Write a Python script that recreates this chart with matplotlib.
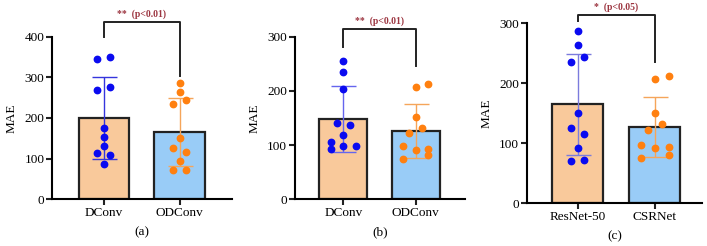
import numpy as np
import matplotlib
matplotlib.use('Agg')
import matplotlib.pyplot as plt

plt.rcParams['font.family'] = ['Liberation Serif', 'DejaVu Serif']

# panel (a): DConv vs ODConv
a_names = ['DConv', 'ODConv']
a_mean = [200, 165]
a_sd = [100, 83]
a_pts1 = [344, 349, 270, 275, 176, 152, 132, 113, 108, 86]
a_off1 = [-1, 1, -1, 1, 0, 0, 0, -1, 1, 0]
a_pts2 = [287, 264, 235, 244, 150, 125, 117, 93, 72, 72]
a_off2 = [0, 0, -1, 1, 0, -1, 1, 0, -1, 1]

# panel (b): DConv vs ODConv
b_names = ['DConv', 'ODConv']
b_mean = [148, 126]
b_sd = [61, 50]
b_pts1 = [256, 235, 203, 140, 137, 119, 106, 92, 99, 98]
b_off1 = [0, 0, 0, -1, 1, 0, -2, -2, 0, 2]
b_pts2 = [207, 212, 151, 132, 123, 98, 91, 93, 75, 81]
b_off2 = [0, 2, 0, 1, -1, -2, 0, 2, -2, 2]

# panel (c): ResNet-50 vs CSRNet
c_names = ['ResNet-50', 'CSRNet']
c_mean = [165, 127]
c_sd = [84, 50]
c_pts1 = [287, 264, 235, 244, 150, 125, 116, 93, 70, 72]
c_off1 = [0, 0, -1, 1, 0, -1, 1, 0, -1, 1]
c_pts2 = [207, 213, 151, 133, 123, 98, 92, 94, 75, 81]
c_off2 = [0, 2, 0, 1, -1, -2, 0, 2, -2, 2]

panels = [
    dict(names=a_names, mean=a_mean, sd=a_sd, p1=a_pts1, o1=a_off1, p2=a_pts2, o2=a_off2,
         ymax=400, pos=[0.0735, 0.190, 0.2546, 0.661], xlim=(-0.68, 1.69),
         br=(435, 400, 303), txt='**  (p<0.01)', ty=455, lab='(a)', ecol1='#3535DD'),
    dict(names=b_names, mean=b_mean, sd=b_sd, p1=b_pts1, o1=b_off1, p2=b_pts2, o2=b_off2,
         ymax=300, pos=[0.417, 0.190, 0.2405, 0.661], xlim=(-0.67, 1.68),
         br=(315, 281, 245), txt='**  (p<0.01)', ty=329, lab='(b)', ecol1='#6565EE'),
    dict(names=c_names, mean=c_mean, sd=c_sd, p1=c_pts1, o1=c_off1, p2=c_pts2, o2=c_off2,
         ymax=300, pos=[0.745, 0.1735, 0.248, 0.7315], xlim=(-0.66, 1.61),
         br=(314, 304, 235), txt='*  (p<0.05)', ty=327, lab='(c)', ecol1='#7B7BDD'),
]

fig = plt.figure(figsize=(7.07, 2.46), dpi=100)
bar_cols = ['#F9C99B', '#99CCF7']
dot_cols = ['#0A0AF0', '#FF8010']
err_cols = [None, '#F5A55A']
step = 0.088

for p in panels:
    ax = fig.add_axes(p['pos'])
    x = np.arange(2)
    ax.bar(x, p['mean'], width=0.66, color=bar_cols, edgecolor='#222222', linewidth=1.6, zorder=1)
    ecols = [p['ecol1'], err_cols[1]]
    for i in range(2):
        ax.errorbar(x[i], p['mean'][i], yerr=p['sd'][i], color=ecols[i], capsize=9,
                    elinewidth=1.0, capthick=1.0, zorder=2)
    ax.plot(x[0] + np.array(p['o1']) * step, p['p1'], 'o', color=dot_cols[0], ms=4.6, zorder=3, clip_on=False)
    ax.plot(x[1] + np.array(p['o2']) * step, p['p2'], 'o', color=dot_cols[1], ms=4.6, zorder=3, clip_on=False)

    top, l1, l2 = p['br']
    ax.plot([0, 0, 1, 1], [l1, top, top, l2], color='#222222', lw=1.4, clip_on=False)
    ax.text(0.5, p['ty'], p['txt'], color='#9C3540', fontsize=7, fontweight='bold',
            ha='center', va='center')

    ax.set_xlim(*p['xlim'])
    ax.set_ylim(0, p['ymax'])
    ax.set_yticks(np.arange(0, p['ymax'] + 1, 100))
    ax.set_xticks(x)
    ax.set_xticklabels(p['names'])
    ax.spines['top'].set_visible(False)
    ax.spines['right'].set_visible(False)
    ax.spines['left'].set_linewidth(1.5)
    ax.spines['bottom'].set_linewidth(1.5)
    ax.tick_params(length=4, width=1.5, pad=1.5, labelsize=9.5, color='#222222')
    ax.set_ylabel('MAE', fontsize=9.5, labelpad=5)
    ax.set_xlabel(p['lab'], fontsize=9.5, labelpad=5)

fig.savefig('out.png', dpi=100)
